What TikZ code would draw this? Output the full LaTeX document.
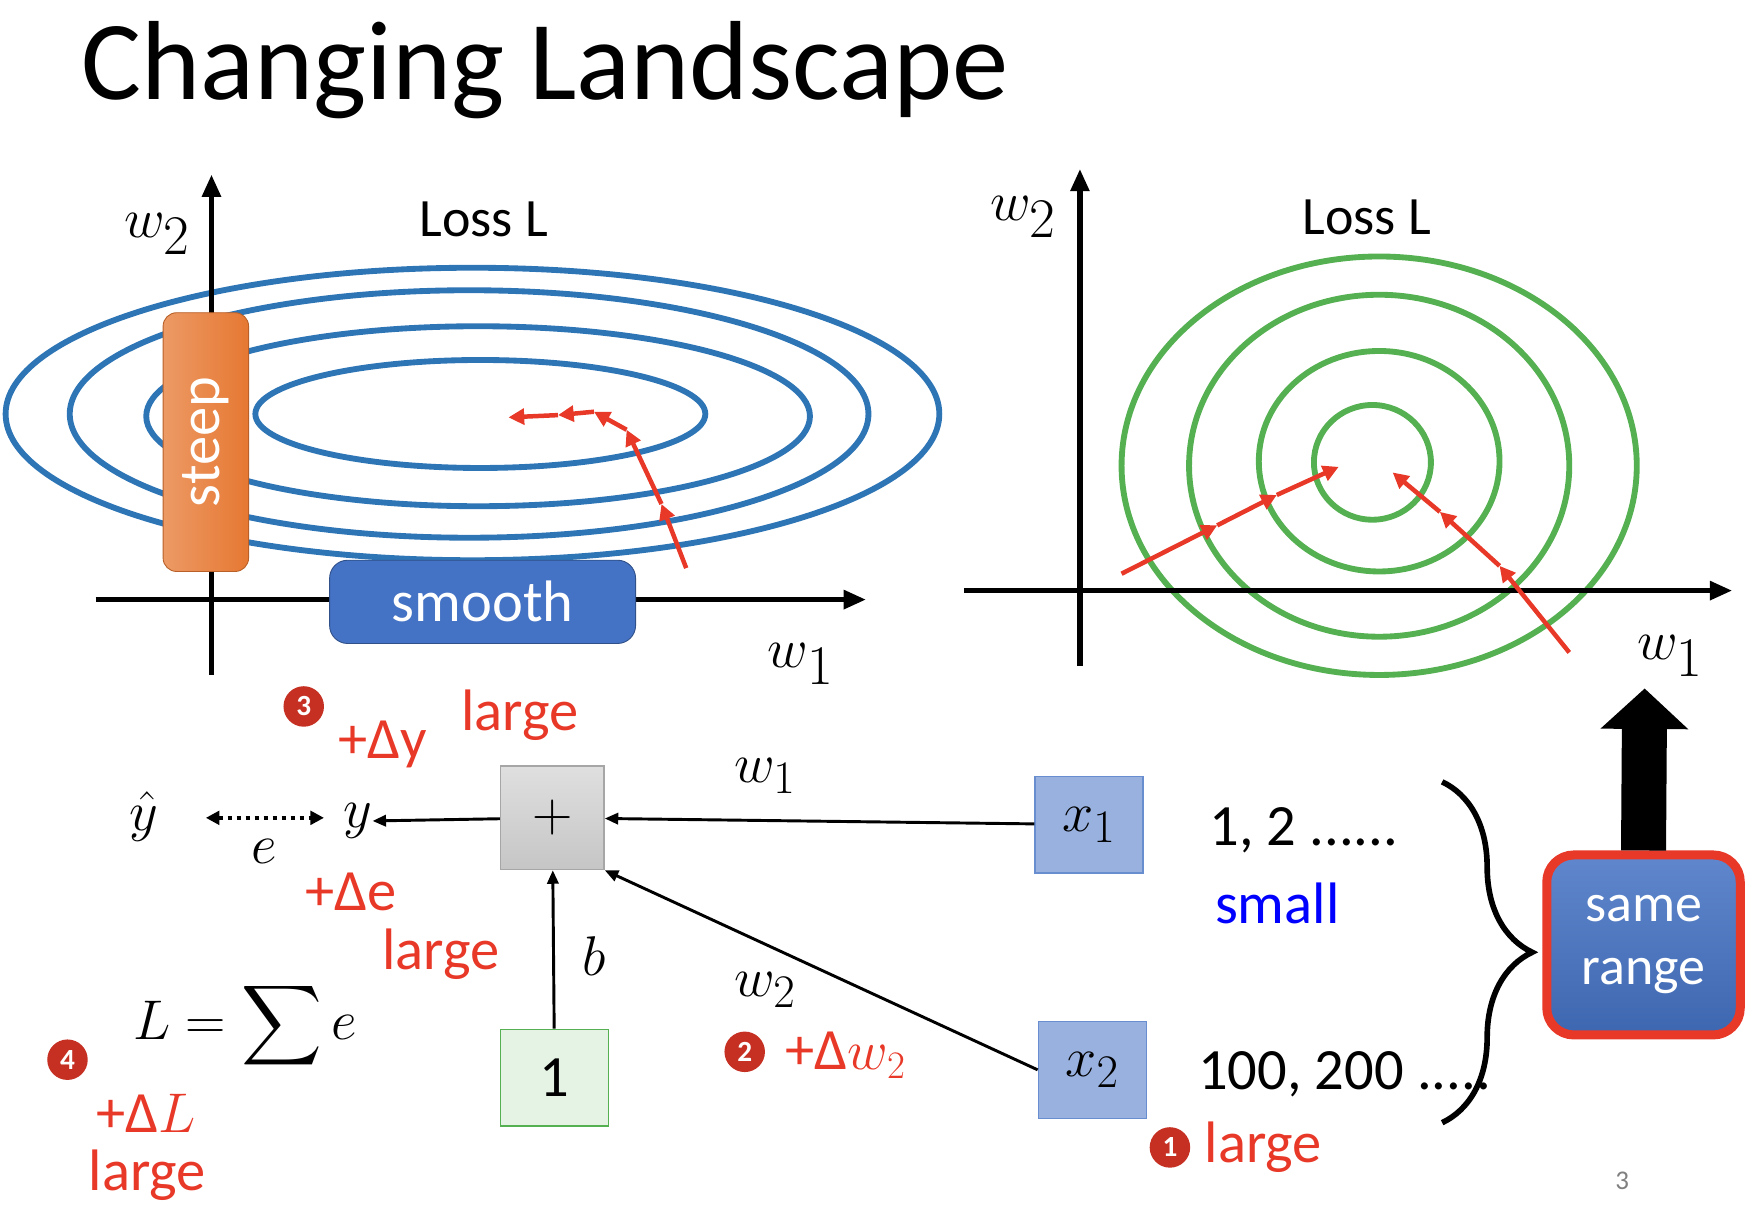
\documentclass[tikz,border=0pt]{standalone}
\usepackage{amsmath}
\usepackage{fontspec}
\setmainfont{Carlito}
\usetikzlibrary{arrows.meta,decorations.pathreplacing,calc}
\definecolor{lblue}{RGB}{46,117,182}
\definecolor{lgreen}{RGB}{84,176,80}
\definecolor{lred}{RGB}{232,56,40}
\definecolor{sblue}{RGB}{68,114,196}
\definecolor{sorange}{RGB}{230,120,50}
\tikzset{
 ax/.style={line width=2.5pt,-{Triangle[length=10pt,width=8pt]}},
 bl/.style={lblue,line width=2.6pt},
 gr/.style={lgreen,line width=2.6pt},
 rarr/.style={lred,line width=2pt,-{Triangle[length=7pt,width=7pt]}},
 conn/.style={line width=1.3pt,-{Triangle[length=6pt,width=5pt]}},
 red/.style={text=lred,font=\fontsize{26}{28}\selectfont,inner sep=0pt},
 circ/.style={circle,fill=lred!85!black,text=white,inner sep=0pt,minimum size=18pt,font=\fontsize{13}{13}\selectfont\bfseries},
 bx/.style={draw,minimum width=48pt,minimum height=43pt,line width=0.6pt},
 lab/.style={font=\fontsize{28}{30}\selectfont,inner sep=0pt},
 axl/.style={font=\fontsize{50}{50}\selectfont,inner sep=0pt},
}
\begin{document}
\begin{tikzpicture}[x=0.5pt,y=-0.5pt]
\useasboundingbox (0,0) rectangle (1561,1072);
\node[anchor=west,inner sep=0pt,font=\fontsize{50}{60}\selectfont] (title) at (72,62) {Changing Landscape};
% left plot
\draw[bl] (420,368) ellipse [x radius=415,y radius=130];
\draw[bl] (417,368) ellipse [x radius=355,y radius=110];
\draw[bl] (425,370) ellipse [x radius=295,y radius=80];
\draw[bl] (427,368) ellipse [x radius=200,y radius=48];
\coordinate (lx0) at (85,533); \coordinate (lx1) at (770,533);
\coordinate (ly0) at (188,600); \coordinate (ly1) at (188,155);
\draw[ax] (lx0) -- (lx1);
\draw[ax] (ly0) -- (ly1);
\node[rounded corners=6pt,left color=sorange!75!white,right color=sorange,draw=sorange!80!black,minimum width=38pt,minimum height=115pt] (steep) at (183,393) {};
\node[rotate=90,text=white,font=\fontsize{26}{28}\selectfont] at (steep) {steep};
\node[rounded corners=8pt,fill=sblue,draw=sblue!70!black,minimum width=136pt,minimum height=37pt,text=white,font=\fontsize{26}{28}\selectfont] (smooth) at (429,535) {smooth};
\node[axl] (lw2) at (140,208) {$w_2$};
\node[font=\fontsize{24}{26}\selectfont] (lloss) at (430,195) {Loss L};
\node[axl] (lw1) at (712,590) {$w_1$};
\coordinate (p0) at (610,505); \coordinate (p1) at (588,448); \coordinate (p2) at (557,382);
\coordinate (p3) at (528,366); \coordinate (p4) at (496,369); \coordinate (p5) at (452,371);
\draw[rarr] (p0)--(p1); \draw[rarr] (p1)--(p2); \draw[rarr] (p2)--(p3); \draw[rarr] (p3)--(p4); \draw[rarr] (p4)--(p5);
% right plot
\draw[gr] (1226,414) ellipse [x radius=229,y radius=186];
\draw[gr] (1226,414) ellipse [x radius=169,y radius=152];
\draw[gr] (1226,410) ellipse [x radius=107,y radius=98];
\draw[gr] (1220,411) ellipse [x radius=52,y radius=51];
\coordinate (rx0) at (857,525); \coordinate (rx1) at (1540,525);
\coordinate (ry0) at (960,592); \coordinate (ry1) at (960,150);
\draw[ax] (rx0) -- (rx1);
\draw[ax] (ry0) -- (ry1);
\node[axl] (rw2) at (910,193) {$w_2$};
\node[font=\fontsize{24}{26}\selectfont] (rloss) at (1215,193) {Loss L};
\node[axl] (rw1) at (1485,583) {$w_1$};
\coordinate (q0) at (997,510); \coordinate (q1) at (1082,467); \coordinate (q2) at (1135,440); \coordinate (q3) at (1190,415);
\draw[rarr] (q0)--(q1); \draw[rarr] (q1)--(q2); \draw[rarr] (q2)--(q3);
\coordinate (s0) at (1395,580); \coordinate (s1) at (1333,503); \coordinate (s2) at (1280,455); \coordinate (s3) at (1238,420);
\draw[rarr] (s0)--(s1); \draw[rarr] (s1)--(s2); \draw[rarr] (s2)--(s3);
% bottom network
\node[bx,draw=gray!70,top color=gray!25,bottom color=gray!45,minimum width=46pt,minimum height=46pt,font=\fontsize{40}{40}\selectfont,inner sep=0pt] (plus) at (491,727) {$+$};
\node[bx,draw=sblue!80,fill=sblue!55!white,font=\fontsize{28}{28}\selectfont] (x1) at (968,733) {$x_1$};
\node[bx,draw=sblue!80,fill=sblue!55!white,font=\fontsize{28}{28}\selectfont] (x2) at (971,951) {$x_2$};
\node[bx,draw=lgreen,fill=lgreen!15,font=\fontsize{26}{26}\selectfont] (one) at (493,958) {1};
\node[lab] (y) at (318,730) {$y$};
\node[lab] (yhat) at (128,726) {$\hat y$};
\draw[line width=2pt,dotted,{Triangle[length=6pt,width=6pt]}-{Triangle[length=6pt,width=6pt]}] (183,727) -- (288,727);
\node[lab] (e) at (235,757) {$e$};
\draw[conn] (plus) -- (y);
\draw[conn] (x1) -- (plus);
\draw[conn] (x2.west) -- (plus.south east);
\draw[conn] (one) -- (plus);
\node[lab] (w1) at (680,690) {$w_1$};
\node[lab] (w2) at (680,880) {$w_2$};
\node[lab] (b) at (528,850) {$b$};
\node[lab] (sum) at (218,912) {$L=\displaystyle\sum e$};
\node[font=\fontsize{26}{28}\selectfont,anchor=west] (v1) at (1068,738) {1, 2 ......};
\node[font=\fontsize{26}{28}\selectfont,text=blue,anchor=west] (small) at (1073,803) {small};
\node[font=\fontsize{26}{28}\selectfont,anchor=west] (v2) at (1058,955) {100, 200 .....};
\coordinate (br0) at (1282,695); \coordinate (br1) at (1282,998);
\draw[line width=2.5pt,decorate,decoration={brace,amplitude=40pt,aspect=0.5}] (br0) -- (br1);
\node[rounded corners=12pt,draw=lred,line width=4pt,top color=sblue!85!white,bottom color=sblue!90!black,minimum width=86pt,minimum height=80pt,text=white,align=center,font=\fontsize{24}{28}\selectfont] (same) at (1461,840) {same\\range};
\draw[line width=20pt,-{Triangle[length=18pt,width=38pt]}] (same.north) -- (1462,612);
% red labels
\node[circ] (c3) at (270,628) {3};
\node[red] (dy) at (340,662) {+Δy};
\node[red] (l3) at (462,636) {large};
\node[red] (de) at (312,793) {+Δe};
\node[red] (le) at (392,848) {large};
\node[circ] (c2) at (662,935) {2};
\node[red] (dw) at (752,938) {+Δ$w_2$};
\node[circ] (c4) at (60,942) {4};
\node[red] (dL) at (130,990) {+Δ$L$};
\node[red] (lL) at (131,1045) {large};
\node[circ] (c1) at (1040,1020) {1};
\node[red] (l1) at (1123,1020) {large};
\node[text=gray,font=\fontsize{12}{12}\selectfont] (pg) at (1442,1050) {3};
\end{tikzpicture}
\end{document}
